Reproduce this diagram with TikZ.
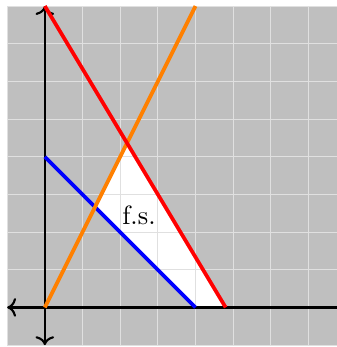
\documentclass[tikz,border=0pt]{standalone}
\usetikzlibrary{arrows.meta}
\usepackage{xcolor}
\definecolor{PlotGray}{RGB}{191,191,191}
\definecolor{GridGray}{RGB}{224,224,224}
\definecolor{LineOrange}{RGB}{255,128,0}
\tikzset{
  axisline/.style={thick, black},
  constraint/.style={line width=1.4pt},
  region/.style={fill=white}
}
\begin{document}
\begin{tikzpicture}[x=0.5cm,y=0.5cm]
  \useasboundingbox (-1.19,-1.05) rectangle (7.75,8.16);
  \fill[PlotGray] (-1,-1) rectangle (7.75,8);

  % feasible set
  \coordinate (p1) at (4/3,8/3);
  \coordinate (p2) at (24/11,48/11);
  \coordinate (p3) at (4.8,0);
  \coordinate (p4) at (4,0);
  \fill[region] (p1) -- (p2) -- (p3) -- (p4) -- cycle;

  \draw[GridGray,step=0.5cm] (-1,-1) grid (7.75,8);

  % axes
  \draw[axisline,<->] (0,-1) -- (0,8);
  \draw[axisline,<-] (-1,0) -- (7.75,0);

  % constraints
  \draw[constraint,blue] (0,4) -- (p4);
  \draw[constraint,LineOrange] (0,0) -- (4,8);
  \draw[constraint,red] (0,8) -- (p3);

  \node (fs) at (2.5,2.45) {f.s.};
\end{tikzpicture}
\end{document}
